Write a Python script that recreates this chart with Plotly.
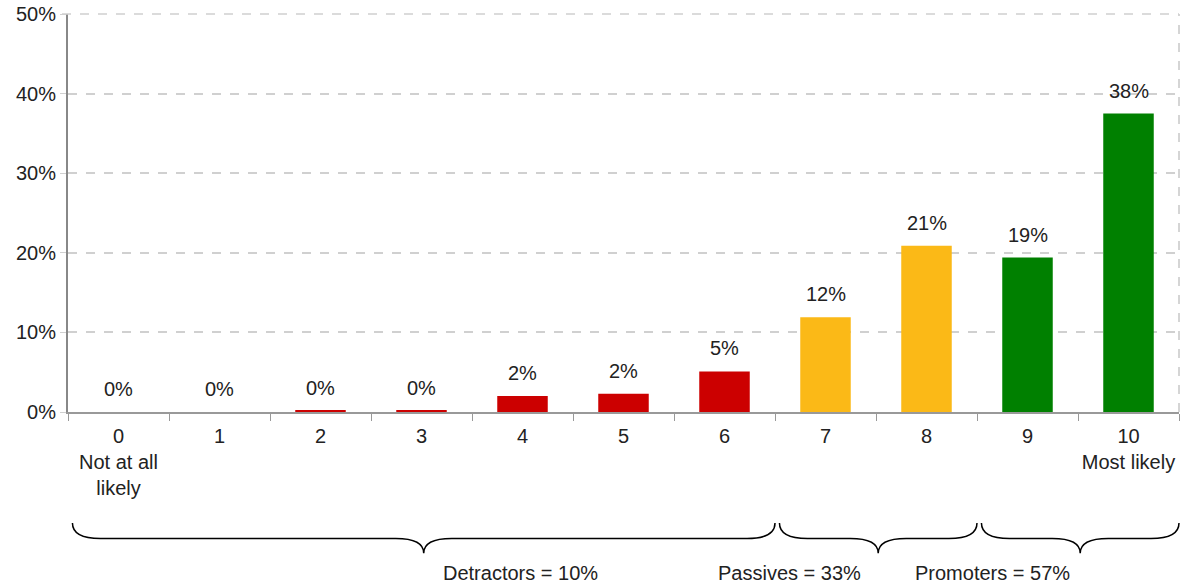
import plotly.graph_objects as go

# NPS score distribution
scores = ["0", "1", "2", "3", "4", "5", "6", "7", "8", "9", "10"]
tick_text = ["0<br>Not at all<br>likely", "1", "2", "3", "4", "5", "6", "7", "8", "9", "10<br>Most likely"]
shares = [0.0, 0.0, 0.15, 0.15, 2.0, 2.3, 5.1, 11.9, 20.9, 19.4, 37.5]
groups = ["Detractors"] * 7 + ["Passives"] * 2 + ["Promoters"] * 2
group_labels = ["Detractors = 10%", "Passives = 33%", "Promoters = 57%"]
group_names = ["Detractors", "Passives", "Promoters"]
group_colors = {"Detractors": "#CC0000", "Passives": "#FBB917", "Promoters": "#008000"}

FONT = "Liberation Sans"
FS = 20

fig = go.Figure()
fig.add_trace(go.Bar(x=scores, y=shares, width=0.5,
                     marker=dict(color=[group_colors[g] for g in groups], line=dict(width=0)),
                     hoverinfo="x+y"))

# value labels above bars
for s, v in zip(scores, shares):
    fig.add_annotation(x=s, y=v, text=f"{round(v)}%", showarrow=False, yanchor="bottom",
                       yshift=10, font=dict(family=FONT, size=FS, color="#222"))

# curly braces under each group
n = len(scores)
y_top, y_mid, y_tip = -0.279, -0.318, -0.355
dx = 28 / 1111
label_nudge = {"Detractors": 17, "Passives": -15, "Promoters": -8}
for name, label in zip(group_names, group_labels):
    idx = [i for i, g in enumerate(groups) if g == name]
    x0 = (idx[0]) / n + 0.004
    x1 = (idx[-1] + 1) / n
    xm = (x0 + x1) / 2
    path = (f"M {x0},{y_top} Q {x0},{y_mid} {x0+dx},{y_mid} L {xm-dx},{y_mid} "
            f"Q {xm},{y_mid} {xm},{y_tip} Q {xm},{y_mid} {xm+dx},{y_mid} "
            f"L {x1-dx},{y_mid} Q {x1},{y_mid} {x1},{y_top}")
    fig.add_shape(type="path", path=path, xref="paper", yref="paper",
                  line=dict(color="black", width=1.5))
    fig.add_annotation(x=xm, y=-0.405, xref="paper", yref="paper", text=label, showarrow=False,
                       yanchor="middle", xshift=label_nudge[name],
                       font=dict(family=FONT, size=FS, color="#222"))

# dashed right border and top gridline
fig.add_shape(type="line", xref="paper", yref="paper", x0=1, x1=1, y0=0, y1=1,
              line=dict(color="#C8C8C8", width=1.5, dash="dash"))
fig.add_shape(type="line", xref="paper", yref="paper", x0=-6 / 1111, x1=1, y0=1, y1=1,
              line=dict(color="#D0D0D0", width=1.5, dash="dash"))

fig.update_layout(
    width=1185, height=587,
    margin=dict(l=68, r=6, t=14, b=175),
    plot_bgcolor="white", paper_bgcolor="white",
    showlegend=False, bargap=0.5,
    font=dict(family=FONT, size=FS, color="#222"),
)
fig.update_xaxes(type="category", tickvals=scores, ticktext=tick_text, tickson="boundaries",
                 ticks="outside", ticklen=7, tickcolor="#999", showline=True, linecolor="#999",
                 linewidth=2, showgrid=False, range=[-0.5, 10.5], automargin=False, tickangle=0,
                 ticklabelstandoff=5)
fig.update_yaxes(range=[0, 50], dtick=10, ticksuffix="%", showgrid=True, gridcolor="#D0D0D0",
                 griddash="dash", gridwidth=1.5, showline=True, linecolor="#888", linewidth=2,
                 ticks="outside", ticklen=6, tickcolor="#D0D0D0", zeroline=False, automargin=False)

# drop the default 8px body margin so the figure fills the window
fig.write_html("out.html", config={"displayModeBar": False},
               post_script="document.body.style.margin='0';")
